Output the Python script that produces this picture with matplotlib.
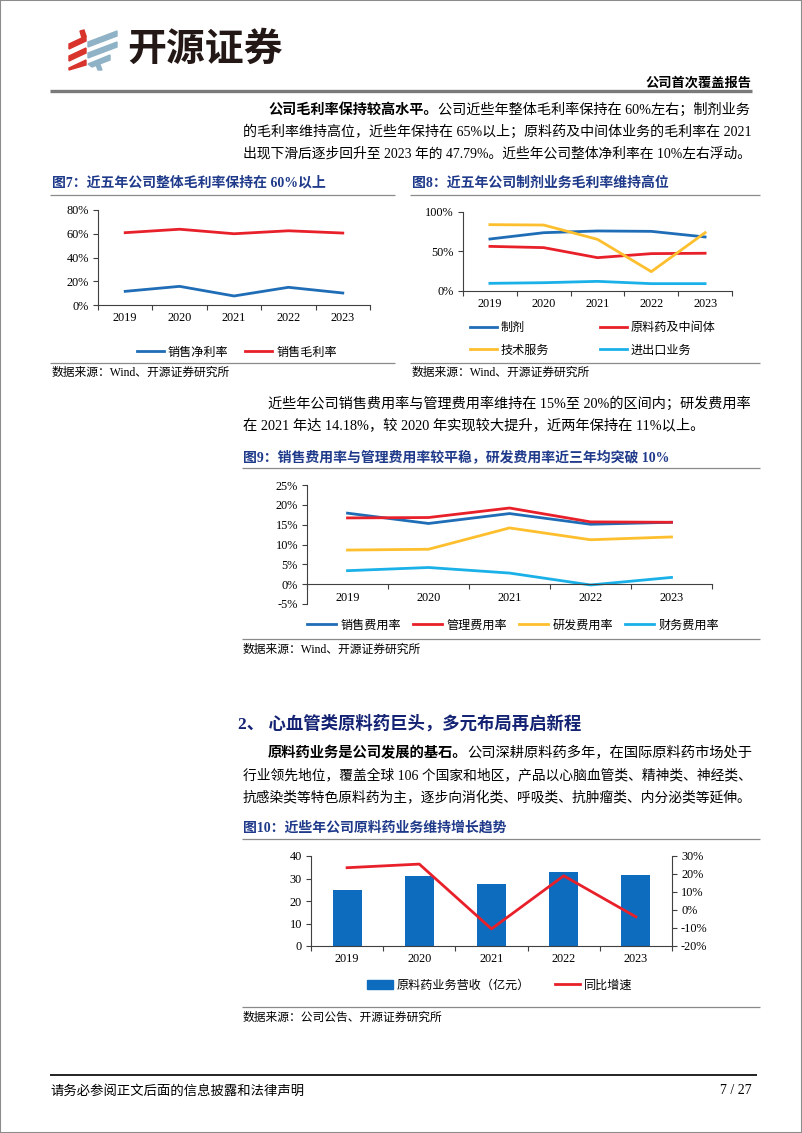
import numpy as np
import matplotlib
matplotlib.use("Agg")
import matplotlib.pyplot as plt
from matplotlib.patches import Polygon, Rectangle, Patch
from matplotlib.font_manager import FontProperties

# ── data ────────────────────────────────────────────────────
years = ["2019", "2020", "2021", "2022", "2023"]

net_margin   = [11.5, 15.7, 7.6, 14.9, 10.1]     # 销售净利率 %
gross_margin = [60.9, 63.8, 60.0, 62.5, 60.6]    # 销售毛利率 %

prep_margin  = [65.8, 73.8, 76.0, 75.5, 68.4]    # 制剂
api_margin   = [56.5, 54.9, 42.2, 47.3, 47.79]   # 原料药及中间体
tech_margin  = [84.0, 83.5, 65.4, 24.5, 73.8]    # 技术服务
trade_margin = [9.7, 10.5, 12.2, 9.3, 9.3]       # 进出口业务

sell_rate  = [17.9, 15.3, 17.8, 15.1, 15.6]      # 销售费用率
admin_rate = [16.7, 16.8, 19.2, 15.7, 15.6]      # 管理费用率
rnd_rate   = [8.6, 8.8, 14.18, 11.2, 11.9]       # 研发费用率
fin_rate   = [3.4, 4.2, 2.8, -0.2, 1.7]          # 财务费用率

api_revenue = [24.7, 31.0, 27.7, 32.9, 31.6]     # 原料药业务营收（亿元）
api_yoy     = [23.5, 25.5, -10.5, 19.0, -3.8]    # 同比增速 %

# ── colours / fonts ─────────────────────────────────────────
DARK_BLUE = "#1f6db6"
RED = "#e8202a"
YELLOW = "#fdbf2d"
LIGHT_BLUE = "#1ab0e8"
BAR_BLUE = "#0e6cbf"
AXIS_C = "#404040"
TITLE_C = "#1f3a8a"
MIX = ["Liberation Serif", "Noto Sans CJK SC"]
CJK = ["Noto Sans CJK SC", "DejaVu Sans"]
TICK_SIZE = 8.8

plt.rcParams["font.family"] = MIX

W, H = 802, 1133
RIGHT = 752
fig = plt.figure(figsize=(W / 100, H / 100), dpi=100)

# pixel-space layer for page text, rules and logo
bg = fig.add_axes([0, 0, 1, 1], zorder=-1)
bg.set_xlim(0, W)
bg.set_ylim(H, 0)
bg.axis("off")


def panel(x0, y0, x1, y1):
    return fig.add_axes([x0 / W, 1 - y1 / H, (x1 - x0) / W, (y1 - y0) / H])


def put(x, y, s, size=10.3, bold=False, color="black", ha="left", family=MIX):
    return bg.text(x, y, s, fontsize=size, fontweight="bold" if bold else "normal",
                   color=color, ha=ha, va="center", family=family)


def draw_parts(x, y, parts, size):
    renderer = fig.canvas.get_renderer()
    texts = []
    for s, b in parts:
        t = put(x, y, s, size, b)
        texts.append(t)
        x = t.get_window_extent(renderer).x1
    return texts, x


def run_line(x, y, parts, size=10.3):
    # bold lead-in + plain text on one line, shrunk a little if it overruns the margin
    texts, end = draw_parts(x, y, parts, size)
    if end > RIGHT + 1:
        for t in texts:
            t.remove()
        draw_parts(x, y, parts, size * (RIGHT - x) / (end - x) * 0.995)


def rule(x0, x1, y, color="#8a8a8a", lw=0.9):
    bg.plot([x0, x1], [y, y], color=color, lw=lw, solid_capstyle="butt")


def style(ax, ylim, yticks, pad=5):
    ax.set_facecolor("none")
    ax.set_xlim(-0.5, 4.5)
    ax.set_ylim(*ylim)
    ax.set_yticks(yticks)
    ax.set_yticklabels([f"{v:.0f}%" for v in yticks])
    ax.set_xticks(range(5))
    ax.set_xticklabels(years)
    ax.set_xticks(np.arange(-0.5, 5, 1), minor=True)
    ax.tick_params(axis="x", which="major", length=0, pad=pad, labelsize=TICK_SIZE)
    ax.tick_params(axis="x", which="minor", length=3.5, direction="out",
                   color=AXIS_C, width=0.8)
    ax.tick_params(axis="y", length=3.5, direction="out", color=AXIS_C,
                   width=0.8, pad=3, labelsize=TICK_SIZE)
    for side in ("top", "right"):
        ax.spines[side].set_visible(False)
    for side in ("left", "bottom"):
        ax.spines[side].set_color(AXIS_C)
        ax.spines[side].set_linewidth(0.8)


def legend(ax, handles, labels, cx, cy, ncol, colsp, hl=2.2, lsp=0.5):
    ax.legend(handles, labels, loc="center", bbox_to_anchor=(cx / W, 1 - cy / H),
              bbox_transform=fig.transFigure, ncol=ncol, frameon=False,
              prop=FontProperties(family=CJK, size=8.7), handlelength=hl,
              handletextpad=0.35, columnspacing=colsp, labelspacing=lsp,
              borderpad=0, borderaxespad=0)


# ── page frame, header, footer ──────────────────────────────
fig.add_artist(Rectangle((0, 0), 1, 1, transform=fig.transFigure, fill=False,
                         edgecolor="#8c8c8c", lw=1.5))

red_bars = [[(69, 44), (86, 36), (86, 41), (69, 49)],
            [(69, 56), (86, 48), (86, 53), (69, 61)],
            [(69, 68), (86, 60), (86, 65), (69, 70)],
            [(80, 31), (84, 30), (86, 36), (82, 38)]]
blue_bars = [[(88, 42), (117, 31), (117, 36), (88, 47)],
             [(88, 53), (117, 42), (117, 47), (88, 58)],
             [(88, 64), (110, 55), (110, 60), (92, 67)],
             [(95, 62), (99, 62), (102, 70), (98, 70)]]
for pts in red_bars:
    bg.add_patch(Polygon(pts, closed=True, color="#d8342c"))
for pts in blue_bars:
    bg.add_patch(Polygon(pts, closed=True, color="#8fb2c6"))
put(127, 49, "开源证券", size=28, bold=True, color="#231815", family=CJK)

put(752, 83, "公司首次覆盖报告", size=9.5, bold=True, ha="right")
rule(50, 752, 91, color="#7a7a7a", lw=2.4)

rule(50, 757, 1075, color="#222222", lw=1.4)
put(50, 1091, "请务必参阅正文后面的信息披露和法律声明", size=9.6)
put(752, 1091, "7 / 27", size=10, ha="right")

# ── paragraph 1 ─────────────────────────────────────────────
run_line(268, 110, [("公司毛利率保持较高水平。", True),
                    ("公司近些年整体毛利率保持在 60%左右；制剂业务", False)])
run_line(243, 132, [("的毛利率维持高位，近些年保持在 65%以上；原料药及中间体业务的毛利率在 2021", False)])
run_line(243, 154, [("出现下滑后逐步回升至 2023 年的 47.79%。近些年公司整体净利率在 10%左右浮动。", False)])

# ── figure 7 ────────────────────────────────────────────────
put(52, 183, "图7：近五年公司整体毛利率保持在 60%以上", size=10, bold=True, color=TITLE_C)
rule(50, 395, 195)
ax7 = panel(98, 210, 370, 305)
style(ax7, (0, 80), [0, 20, 40, 60, 80])
l1, = ax7.plot(range(5), net_margin, color=DARK_BLUE, lw=2)
l2, = ax7.plot(range(5), gross_margin, color=RED, lw=2)
legend(ax7, [l1, l2], ["销售净利率", "销售毛利率"], 237, 352, 2, 1.4)
rule(50, 395, 363)
put(52, 373, "数据来源：Wind、开源证券研究所", size=8.5)

# ── figure 8 ────────────────────────────────────────────────
put(412, 183, "图8：近五年公司制剂业务毛利率维持高位", size=10, bold=True, color=TITLE_C)
rule(410, 760, 195)
ax8 = panel(463, 212, 732, 291)
style(ax8, (0, 100), [0, 50, 100])
h1, = ax8.plot(range(5), prep_margin, color=DARK_BLUE, lw=2)
h2, = ax8.plot(range(5), api_margin, color=RED, lw=2)
h3, = ax8.plot(range(5), tech_margin, color=YELLOW, lw=2)
h4, = ax8.plot(range(5), trade_margin, color=LIGHT_BLUE, lw=2)
legend(ax8, [h1, h3, h2, h4], ["制剂", "技术服务", "原料药及中间体", "进出口业务"],
       593, 339, 2, 4.2, lsp=0.75)
rule(410, 760, 363)
put(412, 373, "数据来源：Wind、开源证券研究所", size=8.5)

# ── paragraph 2 ─────────────────────────────────────────────
run_line(268, 404, [("近些年公司销售费用率与管理费用率维持在 15%至 20%的区间内；研发费用率", False)])
run_line(243, 426, [("在 2021 年达 14.18%，较 2020 年实现较大提升，近两年保持在 11%以上。", False)])

# ── figure 9 ────────────────────────────────────────────────
put(243, 457, "图9：销售费用率与管理费用率较平稳，研发费用率近三年均突破 10%",
    size=10, bold=True, color=TITLE_C)
rule(242, 760, 468)
ax9 = panel(307, 485, 712, 604)
style(ax9, (-5, 25), [-5, 0, 5, 10, 15, 20, 25], pad=5.5)
ax9.spines["bottom"].set_position(("data", 0))
s1, = ax9.plot(range(5), sell_rate, color=DARK_BLUE, lw=2)
s2, = ax9.plot(range(5), admin_rate, color=RED, lw=2)
s3, = ax9.plot(range(5), rnd_rate, color=YELLOW, lw=2)
s4, = ax9.plot(range(5), fin_rate, color=LIGHT_BLUE, lw=2)
legend(ax9, [s1, s2, s3, s4], ["销售费用率", "管理费用率", "研发费用率", "财务费用率"],
       513, 625, 4, 1.0, hl=2.4)
rule(242, 760, 639)
put(243, 650, "数据来源：Wind、开源证券研究所", size=8.5)

# ── section 2 ───────────────────────────────────────────────
put(238, 724, "2、 心血管类原料药巨头，多元布局再启新程", size=12.5, bold=True, color="#142273")
run_line(268, 753, [("原料药业务是公司发展的基石。", True),
                    ("公司深耕原料药多年，在国际原料药市场处于", False)])
run_line(243, 775, [("行业领先地位，覆盖全球 106 个国家和地区，产品以心脑血管类、精神类、神经类、", False)])
run_line(243, 797, [("抗感染类等特色原料药为主，逐步向消化类、呼吸类、抗肿瘤类、内分泌类等延伸。", False)])

# ── figure 10 ───────────────────────────────────────────────
put(243, 828, "图10：近些年公司原料药业务维持增长趋势", size=10, bold=True, color=TITLE_C)
rule(242, 760, 839)
ax10 = panel(311, 856, 672, 946)
style(ax10, (0, 40), [0, 10, 20, 30, 40])
ax10.set_yticklabels([f"{v}" for v in [0, 10, 20, 30, 40]])
ax10.bar(range(5), api_revenue, width=0.4, color=BAR_BLUE)
ax10b = ax10.twinx()
ax10b.set_facecolor("none")
ax10b.set_ylim(-20, 30)
ax10b.set_yticks([-20, -10, 0, 10, 20, 30])
ax10b.set_yticklabels([f"{v}%" for v in [-20, -10, 0, 10, 20, 30]])
ax10b.tick_params(axis="y", length=3.5, direction="out", color=AXIS_C,
                  width=0.8, pad=3, labelsize=TICK_SIZE)
for side in ("left", "top", "bottom"):
    ax10b.spines[side].set_visible(False)
ax10b.spines["right"].set_color(AXIS_C)
ax10b.spines["right"].set_linewidth(0.8)
yl, = ax10b.plot(range(5), api_yoy, color=RED, lw=2)
legend(ax10b, [Patch(color=BAR_BLUE), yl], ["原料药业务营收（亿元）", "同比增速"],
       500, 985, 2, 2.0, hl=2.1)
rule(242, 760, 1007)
put(243, 1018, "数据来源：公司公告、开源证券研究所", size=8.5)

fig.savefig("out.png", dpi=100)
